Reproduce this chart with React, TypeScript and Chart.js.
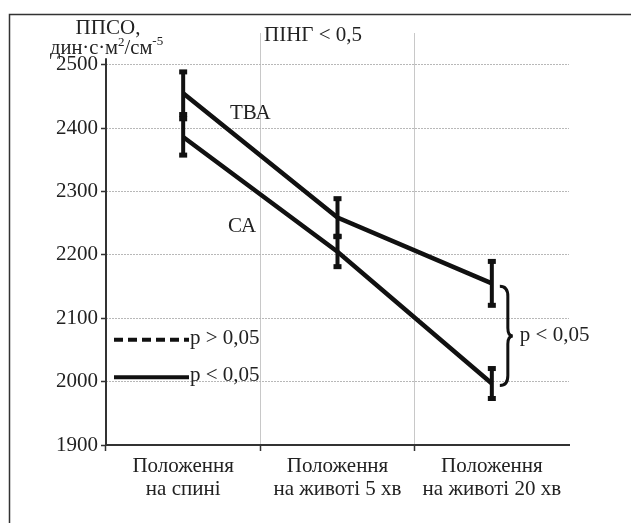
import React, { useEffect, useRef } from "react";
import { Chart, registerables } from "chart.js";

Chart.register(...registerables);

const categories: string[][] = [
  ["Положення", "на спині"],
  ["Положення", "на животі 5 хв"],
  ["Положення", "на животі 20 хв"],
];
const tbaValues = [2455, 2259, 2155];
const tbaErrors = [36, 32, 37];
const caValues = [2386, 2205, 1997];
const caErrors = [31, 26, 26];
const yTicks = [1900, 2000, 2100, 2200, 2300, 2400, 2500];

const FONT = "'Liberation Serif', 'Times New Roman', serif";
const INK = "#111";

const annotations = {
  id: "annotations",
  afterDatasetsDraw(chart: any) {
    const ctx = chart.ctx;
    const x = chart.scales.x;
    const y = chart.scales.y;
    ctx.save();
    // error bars
    const drawErr = (vals: number[], errs: number[]) => {
      vals.forEach((v, i) => {
        const px = x.getPixelForValue(i);
        const top = y.getPixelForValue(v + errs[i]);
        const bot = y.getPixelForValue(v - errs[i]);
        ctx.fillStyle = INK;
        ctx.fillRect(px - 2, top, 4, bot - top);
        ctx.fillRect(px - 4, top - 1, 8, 5);
        ctx.fillRect(px - 4, bot - 4, 8, 5);
      });
    };
    drawErr(tbaValues, tbaErrors);
    drawErr(caValues, caErrors);

    // y axis line (partial)
    ctx.strokeStyle = "#333";
    ctx.lineWidth = 2;
    ctx.beginPath();
    ctx.moveTo(x.left, y.getPixelForValue(2510));
    ctx.lineTo(x.left, y.getPixelForValue(1900));
    ctx.stroke();

    // frame
    ctx.strokeStyle = "#333";
    ctx.lineWidth = 1.5;
    ctx.beginPath();
    ctx.moveTo(9.5, 523);
    ctx.lineTo(9.5, 14.5);
    ctx.lineTo(631, 14.5);
    ctx.stroke();

    ctx.fillStyle = "#222";
    ctx.textBaseline = "middle";
    // axis title
    ctx.font = `21px ${FONT}`;
    ctx.textAlign = "center";
    ctx.fillText("ППСО,", 108, 28);
    ctx.textAlign = "left";
    let cx = 50;
    const base = 49;
    const seg = (t: string, size: number, dy: number) => {
      ctx.font = `${size}px ${FONT}`;
      ctx.fillText(t, cx, base + dy);
      cx += ctx.measureText(t).width;
    };
    seg("дин·с·м", 20.5, 0);
    seg("2", 13, -6);
    seg("/см", 20.5, 0);
    seg("-5", 13, -7);

    ctx.font = `21px ${FONT}`;
    ctx.fillText("ПІНГ < 0,5", 264, 35);
    ctx.fillText("ТВА", 230, 113);
    ctx.fillText("СА", 228, 226);

    // legend
    const lx1 = x.left + 8;
    const lx2 = x.left + 83;
    const ly1 = y.getPixelForValue(2066);
    const ly2 = y.getPixelForValue(2007);
    ctx.strokeStyle = INK;
    ctx.lineWidth = 4;
    ctx.setLineDash([9, 5]);
    ctx.beginPath();
    ctx.moveTo(lx1, ly1);
    ctx.lineTo(lx2, ly1);
    ctx.stroke();
    ctx.setLineDash([]);
    ctx.beginPath();
    ctx.moveTo(lx1, ly2);
    ctx.lineTo(lx2, ly2);
    ctx.stroke();
    ctx.fillText("p > 0,05", lx2 + 1, ly1 - 1);
    ctx.fillText("p < 0,05", lx2 + 1, ly2 - 2);

    // brace between the two series at the last category
    const bx = x.getPixelForValue(2) + 8;
    const bt = y.getPixelForValue(tbaValues[2]) + 3;
    const bb = y.getPixelForValue(caValues[2]) + 2;
    const bm = (bt + bb) / 2;
    const w = 8;
    ctx.lineWidth = 3;
    ctx.beginPath();
    ctx.moveTo(bx, bt);
    ctx.quadraticCurveTo(bx + w, bt, bx + w, bt + 10);
    ctx.lineTo(bx + w, bm - 8);
    ctx.quadraticCurveTo(bx + w, bm, bx + w + 5, bm);
    ctx.quadraticCurveTo(bx + w, bm, bx + w, bm + 8);
    ctx.lineTo(bx + w, bb - 10);
    ctx.quadraticCurveTo(bx + w, bb, bx, bb);
    ctx.stroke();
    ctx.fillText("p < 0,05", bx + w + 12, bm);
    ctx.restore();
  },
};

export default function App() {
  const ref = useRef<HTMLCanvasElement>(null);
  useEffect(() => {
    document.body.style.margin = "0";
    const chart = new Chart(ref.current!, {
      type: "line",
      data: {
        labels: categories,
        datasets: [
          {
            label: "ТВА",
            data: tbaValues,
            borderColor: INK,
            borderWidth: 4.5,
            pointRadius: 0,
            tension: 0,
          },
          {
            label: "СА",
            data: caValues,
            borderColor: INK,
            borderWidth: 4.5,
            pointRadius: 0,
            tension: 0,
          },
        ],
      },
      options: {
        animation: false,
        responsive: false,
        layout: { padding: { left: 0, top: 33, right: 62, bottom: 0 } },
        plugins: { legend: { display: false }, tooltip: { enabled: false } },
        scales: {
          x: {
            type: "category",
            offset: true,
            grid: {
              offset: true,
              color: (c: any) => (c.index === 1 || c.index === 2 ? "#c8c8c8" : "rgba(0,0,0,0)"),
              lineWidth: 1,
              drawTicks: true,
              tickLength: 6,
              tickColor: (c: any) =>
                c.index === 0 || c.index === 1 || c.index === 2 ? "#333" : "rgba(0,0,0,0)",
              tickWidth: 1.5,
            },
            border: { display: true, color: "#333", width: 2 },
            ticks: {
              color: "#222",
              font: { family: FONT, size: 21, lineHeight: 1.08 },
              padding: 4,
              maxRotation: 0,
              autoSkip: false,
            },
            afterFit: (s: any) => {
              s.height = 78;
            },
          },
          y: {
            min: 1900,
            max: 2550,
            afterBuildTicks: (s: any) => {
              s.ticks = yTicks.map((v) => ({ value: v }));
            },
            grid: {
              color: "#b8b8b8",
              lineWidth: 1,
              drawTicks: true,
              tickLength: 5,
              tickColor: "#333",
              tickWidth: 1.5,
              tickBorderDash: [],
            },
            border: { display: false, dash: [2, 1] },
            ticks: {
              color: "#222",
              font: { family: FONT, size: 21 },
              padding: 3,
              callback: (v: any) => String(v),
            },
            afterFit: (s: any) => {
              s.width = 106;
            },
          },
        },
      },
      plugins: [annotations],
    });
    return () => chart.destroy();
  }, []);
  return <canvas ref={ref} width={631} height={523} style={{ display: "block" }} />;
}
